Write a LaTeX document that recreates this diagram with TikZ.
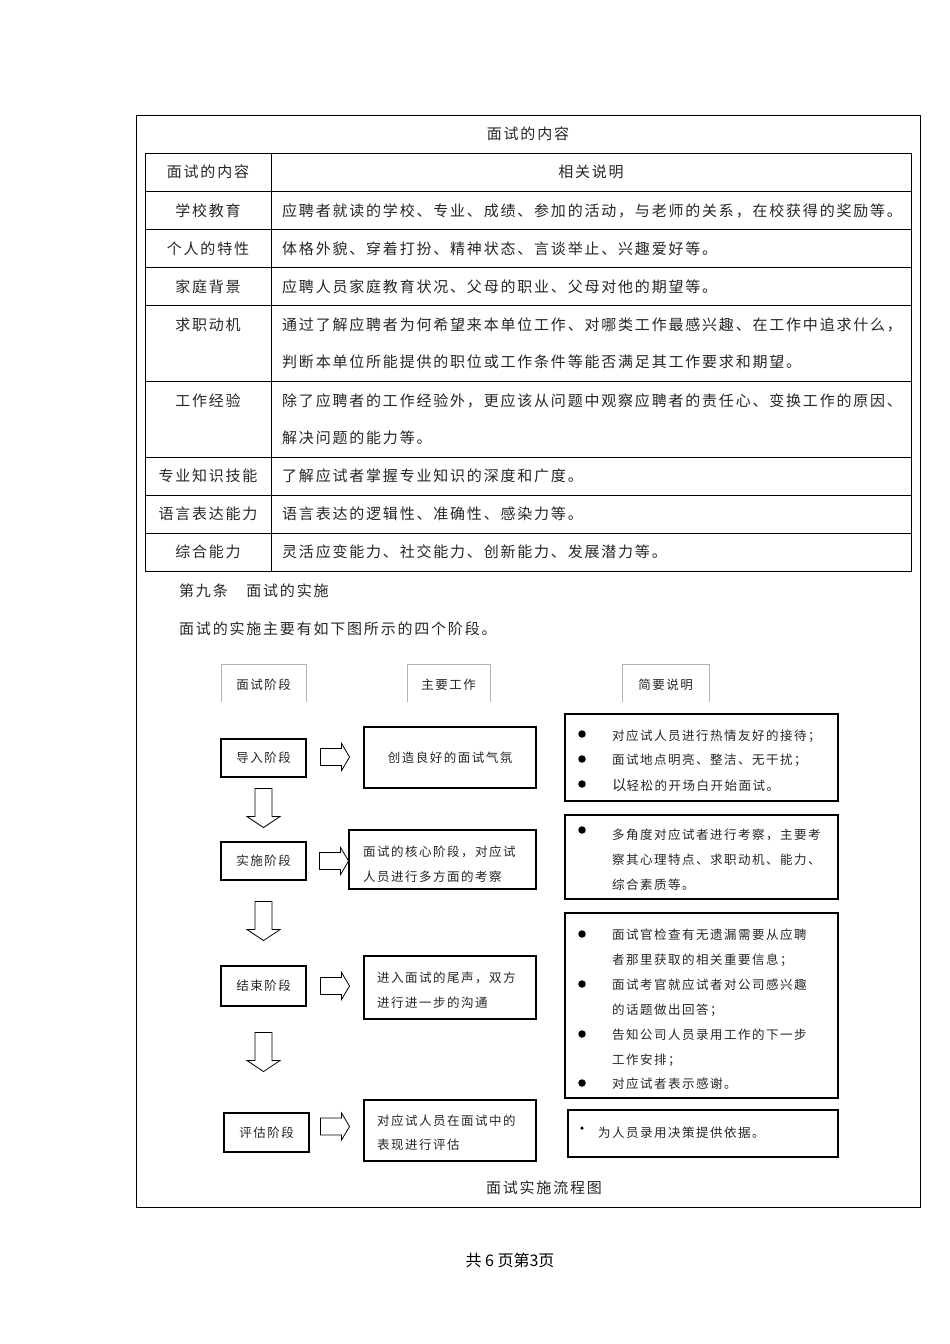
\documentclass[tikz,border=0pt]{standalone}
\usepackage{fontspec}
\usetikzlibrary{calc,shadows}
\newfontfamily\cjk[LetterSpace=12]{Noto Sans CJK SC}
\newfontfamily\cjkplain{Noto Sans CJK SC}
\tikzset{
  tt/.style={inner sep=0, font=\cjk\fontsize{15}{17}\selectfont, text=black!85},
  ft/.style={inner sep=0, font=\cjk\fontsize{12.5}{14}\selectfont, text=black!85},
  boxsh/.style={draw=black, line width=1.1, fill=white, inner sep=0,
    drop shadow={shadow xshift=1.1pt, shadow yshift=-1.1pt, opacity=1, fill=black!75}},
  rarrow/.pic={\draw[line width=0.8, fill=white] (0,-8.5) -- (21,-8.5) -- (21,-13.5) -- (29,0) -- (21,13.5) -- (21,8.5) -- (0,8.5) -- cycle;},
  darrow/.pic={\draw[line width=0.8, fill=white] (-8.5,0) -- (8.5,0) -- (8.5,28) -- (16.5,28) -- (0,39) -- (-16.5,28) -- (-8.5,28) -- cycle;},
  dot/.style={circle, fill=black, inner sep=0, minimum size=7.5},
}
\begin{document}
\begin{tikzpicture}[x=1pt,y=-1pt]
\useasboundingbox (0,0) rectangle (950,1344);
\fill[white] (0,0) rectangle (950,1344);
% outer frame
\draw[line width=0.9] (136,115) rectangle (920,1207);
\node[tt] (title) at (528,134) {面试的内容};
% table
\draw[line width=0.9] (145,153) rectangle (911,571);
\foreach \yy in {191,229,267,305,381,457,495,533} \draw[line width=0.9] (145,\yy) -- (911,\yy);
\draw[line width=0.9] (271,153) -- (271,571);
\node[tt] (h1) at (208,172) {面试的内容};
\node[tt] (h2) at (591,172) {相关说明};
\node[tt] (l1) at (208,211) {学校教育};
\node[tt] (l2) at (208,249) {个人的特性};
\node[tt] (l3) at (208,287) {家庭背景};
\node[tt] (l4) at (208,325) {求职动机};
\node[tt] (l5) at (208,401) {工作经验};
\node[tt] (l6) at (208,476) {专业知识技能};
\node[tt] (l7) at (208,514) {语言表达能力};
\node[tt] (l8) at (208,552) {综合能力};
\node[tt,anchor=west] (r1) at (282,211) {应聘者就读的学校、专业、成绩、参加的活动，与老师的关系，在校获得的奖励等。};
\node[tt,anchor=west] (r2) at (282,249) {体格外貌、穿着打扮、精神状态、言谈举止、兴趣爱好等。};
\node[tt,anchor=west] (r3) at (282,287) {应聘人员家庭教育状况、父母的职业、父母对他的期望等。};
\node[tt,anchor=west] (r4a) at (282,325) {通过了解应聘者为何希望来本单位工作、对哪类工作最感兴趣、在工作中追求什么，};
\node[tt,anchor=west] (r4b) at (282,362) {判断本单位所能提供的职位或工作条件等能否满足其工作要求和期望。};
\node[tt,anchor=west] (r5a) at (282,401) {除了应聘者的工作经验外，更应该从问题中观察应聘者的责任心、变换工作的原因、};
\node[tt,anchor=west] (r5b) at (282,438) {解决问题的能力等。};
\node[tt,anchor=west] (r6) at (282,476) {了解应试者掌握专业知识的深度和广度。};
\node[tt,anchor=west] (r7) at (282,514) {语言表达的逻辑性、准确性、感染力等。};
\node[tt,anchor=west] (r8) at (282,552) {灵活应变能力、社交能力、创新能力、发展潜力等。};
% section text
\node[tt,anchor=west] (sec) at (179,591) {第九条　面试的实施};
\node[tt,anchor=west] (intro) at (179,629) {面试的实施主要有如下图所示的四个阶段。};
% column headers
\draw[black!30, line width=0.8] (221,702) -- (221,664) -- (306,664) -- (306,702);
\draw[black!30, line width=0.8] (407,702) -- (407,664) -- (490,664) -- (490,702);
\draw[black!30, line width=0.8] (622,702) -- (622,664) -- (709,664) -- (709,702);
\node[ft] (c1) at (263.5,685) {面试阶段};
\node[ft] (c2) at (448.5,685) {主要工作};
\node[ft] (c3) at (665.5,685) {简要说明};
% stage boxes
\node[boxsh, minimum width=85, minimum height=38] (s1) at (263.5,758) {};
\node[ft] at (s1) {导入阶段};
\node[boxsh, minimum width=85, minimum height=38] (s2) at (263.5,861) {};
\node[ft] at (s2) {实施阶段};
\node[boxsh, minimum width=85, minimum height=40] (s3) at (263.5,986) {};
\node[ft] at (s3) {结束阶段};
\node[boxsh, minimum width=85, minimum height=39] (s4) at (266.5,1132.5) {};
\node[ft] at (s4) {评估阶段};
% work boxes
\node[boxsh, minimum width=172, minimum height=61] (w1) at (450,757.5) {};
\node[ft] at (w1) {创造良好的面试气氛};
\node[boxsh, minimum width=187, minimum height=59] (w2) at (442.5,859.5) {};
\node[ft,anchor=west] (w2a) at (363,852) {面试的核心阶段，对应试};
\node[ft,anchor=west] (w2b) at (363,877) {人员进行多方面的考察};
\node[boxsh, minimum width=172, minimum height=63] (w3) at (450,987.5) {};
\node[ft,anchor=west] (w3a) at (377,978) {进入面试的尾声，双方};
\node[ft,anchor=west] (w3b) at (377,1003) {进行进一步的沟通};
\node[boxsh, minimum width=172, minimum height=61] (w4) at (450,1130.5) {};
\node[ft,anchor=west] (w4a) at (377,1121) {对应试人员在面试中的};
\node[ft,anchor=west] (w4b) at (377,1145) {表现进行评估};
% description boxes
\node[boxsh, minimum width=273, minimum height=87] (d1) at (701.5,757.5) {};
\node[dot] (b11) at (582,734) {};
\node[dot] (b12) at (582,759) {};
\node[dot] (b13) at (582,784) {};
\node[ft,anchor=west] (d1a) at (612,736) {对应试人员进行热情友好的接待；};
\node[ft,anchor=west] (d1b) at (612,760) {面试地点明亮、整洁、无干扰；};
\node[ft,anchor=west] (d1c) at (612,785) {{\fontsize{14.5}{16}\selectfont 以}轻松的开场白开始面试。};
\node[boxsh, minimum width=273, minimum height=84] (d2) at (701.5,857) {};
\node[dot] (b21) at (582,830) {};
\node[ft,anchor=west] (d2a) at (612,835) {多角度对应试者进行考察，主要考};
\node[ft,anchor=west] (d2b) at (612,860) {察其心理特点、求职动机、能力、};
\node[ft,anchor=west] (d2c) at (612,885) {综合素质等。};
\node[boxsh, minimum width=273, minimum height=185] (d3) at (701.5,1005.5) {};
\node[dot] (b31) at (582,934) {};
\node[dot] (b32) at (582,984) {};
\node[dot] (b33) at (582,1034) {};
\node[dot] (b34) at (582,1083) {};
\node[ft,anchor=west] (d3a) at (612,935) {面试官检查有无遗漏需要从应聘};
\node[ft,anchor=west] (d3b) at (612,960) {者那里获取的相关重要信息；};
\node[ft,anchor=west] (d3c) at (612,985) {面试考官就应试者对公司感兴趣};
\node[ft,anchor=west] (d3d) at (612,1010) {的话题做出回答；};
\node[ft,anchor=west] (d3e) at (612,1035) {告知公司人员录用工作的下一步};
\node[ft,anchor=west] (d3f) at (612,1060) {工作安排；};
\node[ft,anchor=west] (d3g) at (612,1084) {对应试者表示感谢。};
\node[draw=black, line width=1.1, fill=white, inner sep=0, minimum width=270, minimum height=47] (d4) at (703,1133.5) {};
\node[circle, fill=black, inner sep=0, minimum size=3.5] (b41) at (582,1128) {};
\node[ft,anchor=west] (d4a) at (598,1133) {为人员录用决策提供依据。};
% block arrows
\pic at ($(s1.east)+(14,-1)$) {rarrow};
\pic at ($(s2.east)+(13,0)$) {rarrow};
\pic at ($(s3.east)+(14,0)$) {rarrow};
\pic at ($(s4.east)+(11,-6)$) {rarrow};
\pic at ($(s1.south)+(0,11)$) {darrow};
\pic at ($(s2.south)+(0,21)$) {darrow};
\pic at ($(s3.south)+(0,26)$) {darrow};
% caption
\node[tt] (cap) at (544,1188) {面试实施流程图};
% footer
\node[inner sep=0, font=\cjkplain\fontsize{16}{18}\selectfont] (foot) at (510,1260) {共 6 页第3页};
\end{tikzpicture}
\end{document}
